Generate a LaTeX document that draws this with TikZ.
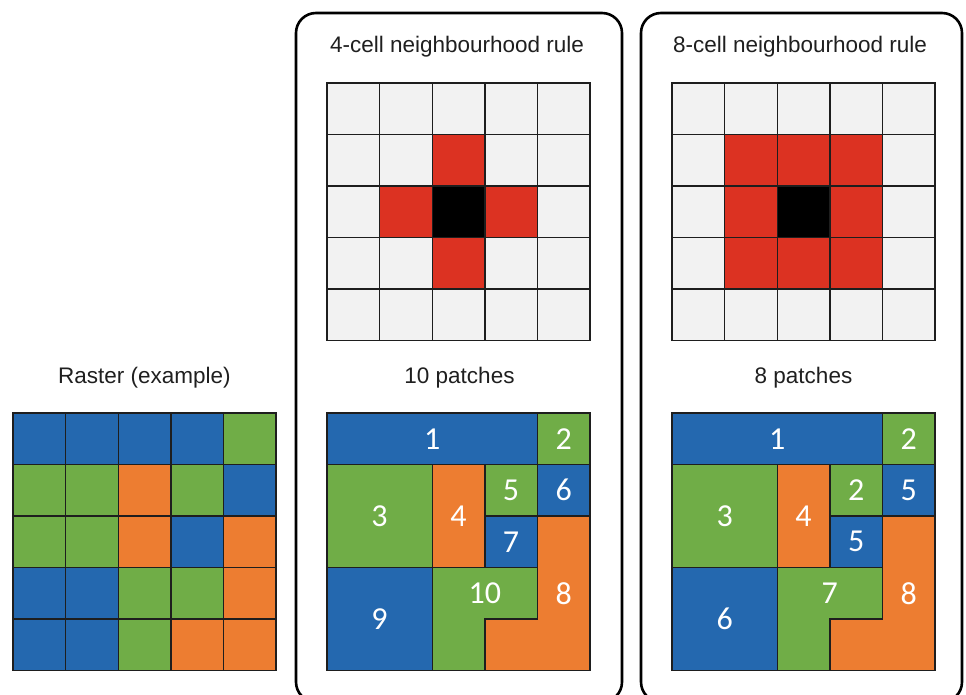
\documentclass[tikz,border=0pt]{standalone}
\usepackage{fontspec}
\setmainfont{Liberation Sans}
\newfontfamily\patchfont{Carlito}
\usetikzlibrary{positioning}
\definecolor{clBlue}  {RGB}{ 36,104,175}
\definecolor{clGreen} {RGB}{112,173, 71}
\definecolor{clOrange}{RGB}{237,125, 49}
\definecolor{clRed}   {RGB}{220, 50, 34}
\definecolor{clEmpty} {RGB}{242,242,242}
\definecolor{clLine}  {RGB}{ 30, 30, 30}
\tikzset{
  %% rounded panel frame
  panel/.style={draw=black, line width=2.6pt, rounded corners=20pt},
  %% cell and patch borders
  cellLine/.style={draw=clLine, line width=1.4pt, line cap=rect},
  patch/.style={draw=clLine, line width=1.4pt, line join=miter},
  %% texts
  caption/.style={font=\fontsize{22.5}{26}\selectfont, text=black!88, anchor=base},
  patchNo/.style={font=\patchfont\fontsize{32}{36}\selectfont, text=white, inner sep=0pt},
  %% one unit = one raster cell
  cellUnits/.style={x=52.6pt, y=-51.5pt},
  %% patch outlines of the example raster
  patchMap/.pic={
    \path[patch, fill=clBlue]   (0,0) -- (4,0) -- (4,1) -- (0,1) -- cycle;
    \path[patch, fill=clGreen]  (4,0) -- (5,0) -- (5,1) -- (4,1) -- cycle;
    \path[patch, fill=clGreen]  (0,1) -- (2,1) -- (2,3) -- (0,3) -- cycle;
    \path[patch, fill=clOrange] (2,1) -- (3,1) -- (3,3) -- (2,3) -- cycle;
    \path[patch, fill=clGreen]  (3,1) -- (4,1) -- (4,2) -- (3,2) -- cycle;
    \path[patch, fill=clBlue]   (4,1) -- (5,1) -- (5,2) -- (4,2) -- cycle;
    \path[patch, fill=clBlue]   (3,2) -- (4,2) -- (4,3) -- (3,3) -- cycle;
    \path[patch, fill=clOrange] (4,2) -- (5,2) -- (5,5) -- (3,5) -- (3,4) -- (4,4) -- cycle;
    \path[patch, fill=clBlue]   (0,3) -- (2,3) -- (2,5) -- (0,5) -- cycle;
    \path[patch, fill=clGreen]  (2,3) -- (4,3) -- (4,4) -- (3,4) -- (3,5) -- (2,5) -- cycle;
  }
}

\begin{document}
\begin{tikzpicture}[x=1pt, y=-1pt]

\useasboundingbox (0,0) rectangle (966,695);

%% ═══════════════════════════════════════════════════════════════
%%  PANEL FRAMES
%% ═══════════════════════════════════════════════════════════════

\draw[panel] (296,13) rectangle (622,702);
\draw[panel] (641,13) rectangle (962,702);

%% ═══════════════════════════════════════════════════════════════
%%  RASTER (EXAMPLE)
%% ═══════════════════════════════════════════════════════════════

\node[caption] (rasterTitle) at (144.5,383) {Raster (example)};

\begin{scope}[shift={(13,413)}, cellUnits]
  \foreach \row [count=\r from 0] in {
      {clBlue,clBlue,clBlue,clBlue,clGreen},
      {clGreen,clGreen,clOrange,clGreen,clBlue},
      {clGreen,clGreen,clOrange,clBlue,clOrange},
      {clBlue,clBlue,clGreen,clGreen,clOrange},
      {clBlue,clBlue,clGreen,clOrange,clOrange}} {
    \foreach \cl [count=\c from 0] in \row
      \fill[\cl] (\c,\r) rectangle ++(1,1);
  }
  \foreach \i in {0,...,5} {
    \draw[cellLine] (\i,0) -- (\i,5);
    \draw[cellLine] (0,\i) -- (5,\i);
  }
\end{scope}

%% ═══════════════════════════════════════════════════════════════
%%  4-CELL NEIGHBOURHOOD RULE
%% ═══════════════════════════════════════════════════════════════

\node[caption] (fourTitle) at (457,53) {4-cell neighbourhood rule};

\begin{scope}[shift={(327,83)}, cellUnits]
  \fill[clEmpty] (0,0) rectangle (5,5);
  \foreach \c/\r in {2/1, 1/2, 3/2, 2/3}
    \fill[clRed] (\c,\r) rectangle ++(1,1);
  \fill[black] (2,2) rectangle ++(1,1);
  \foreach \i in {0,...,5} {
    \draw[cellLine] (\i,0) -- (\i,5);
    \draw[cellLine] (0,\i) -- (5,\i);
  }
\end{scope}

\node[caption] (fourCount) at (459.5,383) {10 patches};

\begin{scope}[shift={(327,413)}, cellUnits]
  \pic {patchMap};
  \foreach \n/\x/\y in {1/2/0.5, 2/4.5/0.5, 3/1/2, 4/2.5/2, 5/3.5/1.5,
                        6/4.5/1.5, 7/3.5/2.5, 8/4.5/3.5, 9/1/4, 10/3/3.5}
    \node[patchNo] (four\n) at (\x,\y) {\n};
\end{scope}

%% ═══════════════════════════════════════════════════════════════
%%  8-CELL NEIGHBOURHOOD RULE
%% ═══════════════════════════════════════════════════════════════

\node[caption] (eightTitle) at (800,53) {8-cell neighbourhood rule};

\begin{scope}[shift={(672,83)}, cellUnits]
  \fill[clEmpty] (0,0) rectangle (5,5);
  \fill[clRed] (1,1) rectangle (4,4);
  \fill[black] (2,2) rectangle ++(1,1);
  \foreach \i in {0,...,5} {
    \draw[cellLine] (\i,0) -- (\i,5);
    \draw[cellLine] (0,\i) -- (5,\i);
  }
\end{scope}

\node[caption] (eightCount) at (803.5,383) {8 patches};

\begin{scope}[shift={(672,413)}, cellUnits]
  \pic {patchMap};
  \foreach \n/\x/\y [count=\k] in {1/2/0.5, 2/4.5/0.5, 3/1/2, 4/2.5/2, 2/3.5/1.5,
                                   5/4.5/1.5, 5/3.5/2.5, 8/4.5/3.5, 6/1/4, 7/3/3.5}
    \node[patchNo] (eight\k) at (\x,\y) {\n};
\end{scope}

\end{tikzpicture}
\end{document}
